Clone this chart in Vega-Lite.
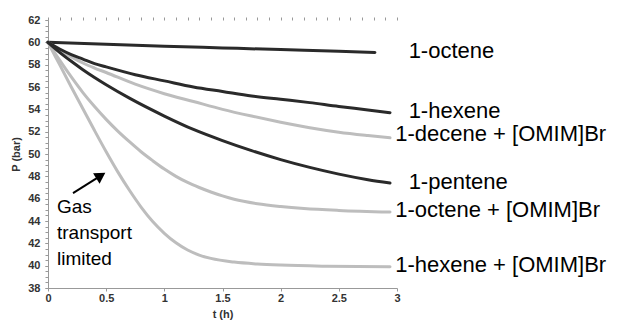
{
  "$schema": "https://vega.github.io/schema/vega-lite/v6.json",
  "width": 349,
  "height": 268,
  "autosize": {"type": "none"},
  "padding": {"left": 48, "top": 20, "right": 226, "bottom": 41},
  "background": "white",
  "config": {
    "view": {"stroke": null},
    "axis": {
      "labelFont": "Liberation Sans",
      "labelFontWeight": "bold",
      "labelFontSize": 11,
      "labelColor": "#333333",
      "titleFont": "Liberation Sans",
      "titleFontWeight": "bold",
      "titleFontSize": 11,
      "titleColor": "#333333",
      "domainColor": "#999999",
      "tickColor": "#999999",
      "tickSize": 3,
      "grid": false
    }
  },
  "datasets": {
    "curves": [
      {"series": "1-octene", "t": 0, "P": 60},
      {"series": "1-octene", "t": 0.5, "P": 59.82},
      {"series": "1-octene", "t": 1, "P": 59.65},
      {"series": "1-octene", "t": 1.5, "P": 59.5},
      {"series": "1-octene", "t": 2, "P": 59.35},
      {"series": "1-octene", "t": 2.5, "P": 59.2},
      {"series": "1-octene", "t": 2.81, "P": 59.1},

      {"series": "1-decene + [OMIM]Br", "t": 0, "P": 60},
      {"series": "1-decene + [OMIM]Br", "t": 0.1, "P": 59.3},
      {"series": "1-decene + [OMIM]Br", "t": 0.2, "P": 58.7},
      {"series": "1-decene + [OMIM]Br", "t": 0.3, "P": 58.15},
      {"series": "1-decene + [OMIM]Br", "t": 0.4, "P": 57.7},
      {"series": "1-decene + [OMIM]Br", "t": 0.5, "P": 57.3},
      {"series": "1-decene + [OMIM]Br", "t": 0.75, "P": 56.25},
      {"series": "1-decene + [OMIM]Br", "t": 1.0, "P": 55.4},
      {"series": "1-decene + [OMIM]Br", "t": 1.25, "P": 54.7},
      {"series": "1-decene + [OMIM]Br", "t": 1.5, "P": 54.0},
      {"series": "1-decene + [OMIM]Br", "t": 1.75, "P": 53.4},
      {"series": "1-decene + [OMIM]Br", "t": 2.0, "P": 52.85},
      {"series": "1-decene + [OMIM]Br", "t": 2.25, "P": 52.35},
      {"series": "1-decene + [OMIM]Br", "t": 2.5, "P": 51.95},
      {"series": "1-decene + [OMIM]Br", "t": 2.75, "P": 51.65},
      {"series": "1-decene + [OMIM]Br", "t": 2.94, "P": 51.45},

      {"series": "1-octene + [OMIM]Br", "t": 0, "P": 60},
      {"series": "1-octene + [OMIM]Br", "t": 0.1, "P": 58.4},
      {"series": "1-octene + [OMIM]Br", "t": 0.2, "P": 56.9},
      {"series": "1-octene + [OMIM]Br", "t": 0.3, "P": 55.5},
      {"series": "1-octene + [OMIM]Br", "t": 0.4, "P": 54.25},
      {"series": "1-octene + [OMIM]Br", "t": 0.5, "P": 53.1},
      {"series": "1-octene + [OMIM]Br", "t": 0.6, "P": 52.05},
      {"series": "1-octene + [OMIM]Br", "t": 0.7, "P": 51.1},
      {"series": "1-octene + [OMIM]Br", "t": 0.8, "P": 50.2},
      {"series": "1-octene + [OMIM]Br", "t": 0.9, "P": 49.4},
      {"series": "1-octene + [OMIM]Br", "t": 1.0, "P": 48.65},
      {"series": "1-octene + [OMIM]Br", "t": 1.1, "P": 48.0},
      {"series": "1-octene + [OMIM]Br", "t": 1.2, "P": 47.45},
      {"series": "1-octene + [OMIM]Br", "t": 1.3, "P": 47.0},
      {"series": "1-octene + [OMIM]Br", "t": 1.4, "P": 46.6},
      {"series": "1-octene + [OMIM]Br", "t": 1.5, "P": 46.25},
      {"series": "1-octene + [OMIM]Br", "t": 1.6, "P": 45.95},
      {"series": "1-octene + [OMIM]Br", "t": 1.8, "P": 45.55},
      {"series": "1-octene + [OMIM]Br", "t": 2.0, "P": 45.3},
      {"series": "1-octene + [OMIM]Br", "t": 2.2, "P": 45.12},
      {"series": "1-octene + [OMIM]Br", "t": 2.5, "P": 44.95},
      {"series": "1-octene + [OMIM]Br", "t": 2.94, "P": 44.8},

      {"series": "1-hexene + [OMIM]Br", "t": 0, "P": 60},
      {"series": "1-hexene + [OMIM]Br", "t": 0.1, "P": 58.0},
      {"series": "1-hexene + [OMIM]Br", "t": 0.2, "P": 56.0},
      {"series": "1-hexene + [OMIM]Br", "t": 0.3, "P": 54.05},
      {"series": "1-hexene + [OMIM]Br", "t": 0.4, "P": 52.1},
      {"series": "1-hexene + [OMIM]Br", "t": 0.5, "P": 50.2},
      {"series": "1-hexene + [OMIM]Br", "t": 0.6, "P": 48.4},
      {"series": "1-hexene + [OMIM]Br", "t": 0.7, "P": 46.75},
      {"series": "1-hexene + [OMIM]Br", "t": 0.8, "P": 45.25},
      {"series": "1-hexene + [OMIM]Br", "t": 0.9, "P": 43.95},
      {"series": "1-hexene + [OMIM]Br", "t": 1.0, "P": 42.9},
      {"series": "1-hexene + [OMIM]Br", "t": 1.1, "P": 42.05},
      {"series": "1-hexene + [OMIM]Br", "t": 1.2, "P": 41.4},
      {"series": "1-hexene + [OMIM]Br", "t": 1.3, "P": 40.95},
      {"series": "1-hexene + [OMIM]Br", "t": 1.4, "P": 40.65},
      {"series": "1-hexene + [OMIM]Br", "t": 1.6, "P": 40.32},
      {"series": "1-hexene + [OMIM]Br", "t": 1.8, "P": 40.15},
      {"series": "1-hexene + [OMIM]Br", "t": 2.0, "P": 40.05},
      {"series": "1-hexene + [OMIM]Br", "t": 2.4, "P": 39.95},
      {"series": "1-hexene + [OMIM]Br", "t": 2.94, "P": 39.9},

      {"series": "1-hexene", "t": 0, "P": 60},
      {"series": "1-hexene", "t": 0.1, "P": 59.4},
      {"series": "1-hexene", "t": 0.2, "P": 58.9},
      {"series": "1-hexene", "t": 0.3, "P": 58.5},
      {"series": "1-hexene", "t": 0.4, "P": 58.1},
      {"series": "1-hexene", "t": 0.5, "P": 57.8},
      {"series": "1-hexene", "t": 0.75, "P": 57.1},
      {"series": "1-hexene", "t": 1.0, "P": 56.55},
      {"series": "1-hexene", "t": 1.25, "P": 56.0},
      {"series": "1-hexene", "t": 1.5, "P": 55.6},
      {"series": "1-hexene", "t": 1.75, "P": 55.2},
      {"series": "1-hexene", "t": 2.0, "P": 54.9},
      {"series": "1-hexene", "t": 2.25, "P": 54.6},
      {"series": "1-hexene", "t": 2.5, "P": 54.25},
      {"series": "1-hexene", "t": 2.75, "P": 53.95},
      {"series": "1-hexene", "t": 2.94, "P": 53.7},

      {"series": "1-pentene", "t": 0, "P": 60},
      {"series": "1-pentene", "t": 0.1, "P": 59.1},
      {"series": "1-pentene", "t": 0.2, "P": 58.3},
      {"series": "1-pentene", "t": 0.3, "P": 57.55},
      {"series": "1-pentene", "t": 0.4, "P": 56.85},
      {"series": "1-pentene", "t": 0.5, "P": 56.2},
      {"series": "1-pentene", "t": 0.7, "P": 55.0},
      {"series": "1-pentene", "t": 1.0, "P": 53.4},
      {"series": "1-pentene", "t": 1.25, "P": 52.2},
      {"series": "1-pentene", "t": 1.5, "P": 51.2},
      {"series": "1-pentene", "t": 1.75, "P": 50.3},
      {"series": "1-pentene", "t": 2.0, "P": 49.5},
      {"series": "1-pentene", "t": 2.25, "P": 48.8},
      {"series": "1-pentene", "t": 2.5, "P": 48.2},
      {"series": "1-pentene", "t": 2.75, "P": 47.7},
      {"series": "1-pentene", "t": 2.94, "P": 47.4}
    ],
    "labels": [
      {"label": "1-octene", "t": 3.1, "P": 59.2},
      {"label": "1-hexene", "t": 3.1, "P": 53.85},
      {"label": "1-decene + [OMIM]Br", "t": 2.985, "P": 51.8},
      {"label": "1-pentene", "t": 3.1, "P": 47.5},
      {"label": "1-octene + [OMIM]Br", "t": 2.985, "P": 45.0},
      {"label": "1-hexene + [OMIM]Br", "t": 2.985, "P": 40.1}
    ],
    "note": [
      {"label": "Gas\ntransport\nlimited", "t": 0.077, "P": 44.7}
    ],
    "arrow": [
      {"t": 0.215, "P": 46.5, "t2": 0.454, "P2": 48.06}
    ]
  },
  "layer": [
    {
      "data": {"name": "curves"},
      "mark": {"type": "line", "strokeWidth": 3, "strokeCap": "round", "interpolate": "monotone"},
      "encoding": {
        "x": {
          "field": "t", "type": "quantitative",
          "scale": {"domain": [0, 3], "nice": false},
          "axis": {"values": [0, 0.5, 1, 1.5, 2, 2.5, 3], "format": "~g", "title": "t (h)", "labelPadding": 1, "titlePadding": 5, "labelFlush": false}
        },
        "y": {
          "field": "P", "type": "quantitative",
          "scale": {"domain": [38, 62], "nice": false, "zero": false},
          "axis": {"values": [38, 40, 42, 44, 46, 48, 50, 52, 54, 56, 58, 60, 62], "title": "P (bar)", "labelPadding": 5, "titlePadding": 6, "labelFlush": false}
        },
        "color": {
          "field": "series", "type": "nominal",
          "scale": {
            "domain": ["1-octene", "1-hexene", "1-decene + [OMIM]Br", "1-pentene", "1-octene + [OMIM]Br", "1-hexene + [OMIM]Br"],
            "range": ["#2a2a2a", "#2a2a2a", "#bdbdbd", "#2a2a2a", "#bdbdbd", "#bdbdbd"]
          },
          "legend": null
        },
        "order": {"field": "t", "type": "quantitative"}
      }
    },
    {
      "data": {"name": "labels"},
      "mark": {"type": "text", "align": "left", "baseline": "middle", "font": "Liberation Sans", "fontSize": 22, "color": "#000000"},
      "encoding": {
        "x": {
          "field": "t", "type": "quantitative",
          "scale": {"domain": [0, 3], "nice": false},
          "axis": {"values": [0, 0.1, 0.2, 0.3, 0.4, 0.5, 0.6, 0.7, 0.8, 0.9, 1, 1.1, 1.2, 1.3, 1.4, 1.5, 1.6, 1.7, 1.8, 1.9, 2, 2.1, 2.2, 2.3, 2.4, 2.5, 2.6, 2.7, 2.8, 2.9, 3], "labels": false, "domain": false, "title": null}
        },
        "y": {
          "field": "P", "type": "quantitative",
          "scale": {"domain": [38, 62], "nice": false, "zero": false},
          "axis": {"values": [38, 38.5, 39, 39.5, 40, 40.5, 41, 41.5, 42, 42.5, 43, 43.5, 44, 44.5, 45, 45.5, 46, 46.5, 47, 47.5, 48, 48.5, 49, 49.5, 50, 50.5, 51, 51.5, 52, 52.5, 53, 53.5, 54, 54.5, 55, 55.5, 56, 56.5, 57, 57.5, 58, 58.5, 59, 59.5, 60, 60.5, 61, 61.5, 62], "labels": false, "domain": false, "title": null, "orient": "left"}
        },
        "text": {"field": "label", "type": "nominal"}
      }
    },
    {
      "data": {"name": "note"},
      "mark": {"type": "text", "align": "left", "baseline": "alphabetic", "font": "Liberation Sans", "fontSize": 19, "lineHeight": 26, "lineBreak": "\n", "color": "#000000"},
      "encoding": {
        "x": {"field": "t", "type": "quantitative", "scale": {"domain": [0, 3], "nice": false}, "axis": null},
        "y": {"field": "P", "type": "quantitative", "scale": {"domain": [38, 62], "nice": false, "zero": false}, "axis": null},
        "text": {"field": "label", "type": "nominal"}
      }
    },
    {
      "data": {"name": "arrow"},
      "mark": {"type": "rule", "strokeWidth": 2, "color": "#000000"},
      "encoding": {
        "x": {"field": "t", "type": "quantitative", "scale": {"domain": [0, 3], "nice": false}, "axis": null},
        "y": {"field": "P", "type": "quantitative", "scale": {"domain": [38, 62], "nice": false, "zero": false}, "axis": null},
        "x2": {"field": "t2"},
        "y2": {"field": "P2"}
      }
    },
    {
      "data": {"name": "arrow"},
      "mark": {"type": "point", "shape": "triangle-up", "filled": true, "size": 150, "angle": 58, "color": "#000000", "opacity": 1},
      "encoding": {
        "x": {"field": "t2", "type": "quantitative", "scale": {"domain": [0, 3], "nice": false}, "axis": null},
        "y": {"field": "P2", "type": "quantitative", "scale": {"domain": [38, 62], "nice": false, "zero": false}, "axis": null}
      }
    }
  ],
  "resolve": {"axis": {"x": "independent", "y": "independent"}}
}
